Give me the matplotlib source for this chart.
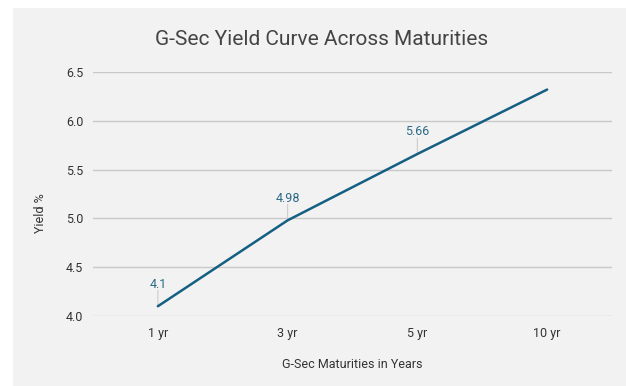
import matplotlib
matplotlib.use("Agg")
import matplotlib.pyplot as plt
from matplotlib.patches import Rectangle

categories = ["1 yr", "3 yr", "5 yr", "10 yr"]
yields = [4.1, 4.98, 5.66, 6.32]
labels = ["4.1", "4.98", "5.66", None]
yticks = [4.0, 4.5, 5.0, 5.5, 6.0, 6.5]

plt.rcParams['font.family'] = ['Roboto', 'DejaVu Sans']

W, H = 626, 386
fig = plt.figure(figsize=(W/100, H/100), dpi=100)
fig.patch.set_facecolor("white")
fig.add_artist(Rectangle((13/W, 0), 1 - 13/W, 1 - 8/H, transform=fig.transFigure,
                         facecolor="#f2f2f2", edgecolor="none", zorder=0))

ax = fig.add_axes([93/W, 1 - 316/H, (612-93)/W, (316-72)/H])
ax.set_facecolor("none")
x = list(range(len(categories)))
ax.plot(x, yields, color="#155f83", lw=1.8, zorder=3, solid_capstyle="round")
ax.set_xlim(-0.5, len(categories) - 0.5)
ax.set_ylim(4.0, 6.5)
ax.set_yticks(yticks)
ax.set_yticklabels([f"{v:.1f}" for v in yticks])
ax.set_xticks(x)
ax.set_xticklabels(categories)
ax.grid(axis="y", color="#c9c9c9", lw=1)
ax.set_axisbelow(True)
for s in ax.spines.values():
    s.set_visible(False)
ax.tick_params(length=0, labelsize=9, colors="#333333")
ax.tick_params(axis="x", pad=8)
ax.tick_params(axis="y", pad=7)

for xi, yi, lab in zip(x, yields, labels):
    if lab is None:
        continue
    ax.annotate("", xy=(xi, yi), xytext=(0, 11.5), textcoords="offset points",
                arrowprops=dict(arrowstyle="-", color="#cccccc", lw=0.8,
                                shrinkA=0, shrinkB=0), zorder=2)
    ax.annotate(lab, xy=(xi, yi), xytext=(0, 16), textcoords="offset points",
                ha="center", va="center", fontsize=9, color="#2b6a86")

fig.text(322/W, 1 - 39.5/H, "G-Sec Yield Curve Across Maturities", ha="center", va="center",
         fontsize=15, color="#444444")
fig.text(352/W, 1 - 365/H, "G-Sec Maturities in Years", ha="center", va="center",
         fontsize=9, color="#333333")
fig.text(40/W, 1 - 213/H, "Yield %", ha="center", va="center", rotation=90,
         fontsize=9, color="#333333")

fig.savefig("out.png", dpi=100)
